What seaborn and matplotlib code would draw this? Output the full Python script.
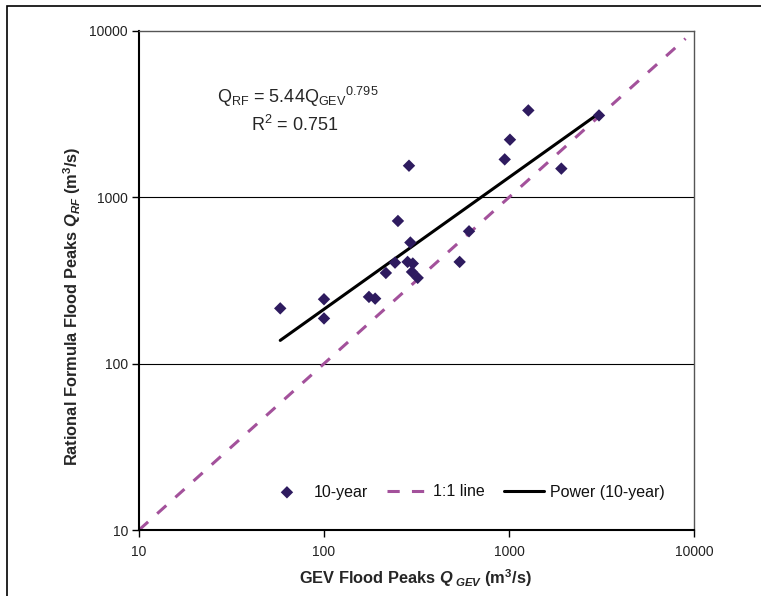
import matplotlib
matplotlib.use("Agg")
import matplotlib.pyplot as plt
import seaborn as sns
import pandas as pd
from matplotlib.patches import Rectangle

# ---- data ----
gev_10yr = [58, 100, 100, 175, 189, 216, 242, 251, 288, 293, 283, 302, 299, 321,
            541, 608, 948, 1012, 1272, 1918, 3065]
rf_10yr = [215, 244, 187, 252, 246, 351, 405, 721, 1549, 535, 409, 400, 356, 328,
           409, 625, 1691, 2221, 3331, 1488, 3108]
one_to_one_x = [10, 9000]
one_to_one_y = [10, 9000]
power_x = [58, 3065]
power_y = [138, 3200]
ticks = [10, 100, 1000, 10000]
tick_labels = ["10", "100", "1000", "10000"]

sns.set_theme(style="white")
plt.rcParams["font.family"] = ["Liberation Sans", "DejaVu Sans"]
plt.rcParams["mathtext.fontset"] = "custom"
plt.rcParams["mathtext.rm"] = "Liberation Sans"
plt.rcParams["mathtext.it"] = "Liberation Sans:italic:bold"
plt.rcParams["mathtext.bf"] = "Liberation Sans:bold"

W, H = 761, 596
fig = plt.figure(figsize=(W / 100, H / 100), dpi=100)
ax = fig.add_axes([139 / W, 1 - 530 / H, (694 - 139) / W, (530 - 31) / H])

pts = pd.DataFrame({"GEV": gev_10yr, "RF": rf_10yr})
line11 = pd.DataFrame({"x": one_to_one_x, "y": one_to_one_y})
pw = pd.DataFrame({"x": power_x, "y": power_y})

for yv in [100, 1000]:
    ax.axhline(yv, color="black", lw=0.8, zorder=0)

sns.lineplot(data=line11, x="x", y="y", ax=ax, color="#A3519B", lw=2.2,
             dashes=False, label="1:1 line", zorder=2)
ax.lines[-1].set_dashes((4, 4))
sns.lineplot(data=pw, x="x", y="y", ax=ax, color="black", lw=2.2,
             label="Power (10-year)", zorder=3)
sns.scatterplot(data=pts, x="GEV", y="RF", ax=ax, marker="D", s=40,
                color="#2E1B5F", edgecolor="none", label="10-year", zorder=4)

ax.set_xscale("log")
ax.set_yscale("log")
ax.set_xlim(10, 10000)
ax.set_ylim(10, 10000)
ax.set_xticks(ticks)
ax.set_xticklabels(tick_labels)
ax.set_yticks(ticks)
ax.set_yticklabels(tick_labels)
ax.minorticks_off()
ax.tick_params(axis="both", which="major", direction="out", length=5, width=1,
               color="black", labelsize=10, pad=3, labelcolor="#222222")
ax.tick_params(axis="x", pad=6)
ax.tick_params(bottom=True, left=True)

for side in ["left", "bottom"]:
    ax.spines[side].set_color("black")
    ax.spines[side].set_linewidth(1.5)
for side in ["top", "right"]:
    ax.spines[side].set_color("#555555")
    ax.spines[side].set_linewidth(1.0)

ax.set_xlabel(r"GEV Flood Peaks $\mathit{Q}_{\ \mathit{GEV}}$ (m$^{\mathbf{3}}$/s)",
              fontsize=11.8, fontweight="bold")
ax.set_ylabel(r"Rational Formula Flood Peaks $\mathit{Q}_{\mathit{RF}}$ (m$^{\mathbf{3}}$/s)",
              fontsize=11.8, fontweight="bold")
ax.xaxis.set_label_coords((415 - 139) / 555, (530 - 578) / 499)
ax.yaxis.set_label_coords((72 - 139) / 555, (530 - 306) / 499)
ax.xaxis.label.set_va("center")
ax.yaxis.label.set_va("center")

handles, labels = ax.get_legend_handles_labels()
order = [labels.index("10-year"), labels.index("1:1 line"), labels.index("Power (10-year)")]
leg = ax.legend([handles[i] for i in order], [labels[i] for i in order],
                loc="center", bbox_to_anchor=((466 - 139) / 555, (530 - 492) / 499),
                ncol=3, frameon=False, fontsize=11.5, handlelength=2.5,
                columnspacing=1.2, handletextpad=0.4)
for t in leg.get_texts():
    t.set_color("#111111")

fig.text(298 / W, 1 - 97 / H,
         r"$\mathrm{Q_{RF}}$ = 5.44$\mathrm{Q_{GEV}}^{0.795}$",
         ha="center", va="center", fontsize=13)
fig.text(295 / W, 1 - 125 / H, r"R$^{2}$ = 0.751", ha="center", va="center", fontsize=13)

fig.patches.append(Rectangle((7 / W, -0.1), 1.2, 1.1 - 6 / H,
                             transform=fig.transFigure, fill=False,
                             edgecolor="black", lw=1.2, zorder=10))

fig.savefig("out.png", dpi=100)
